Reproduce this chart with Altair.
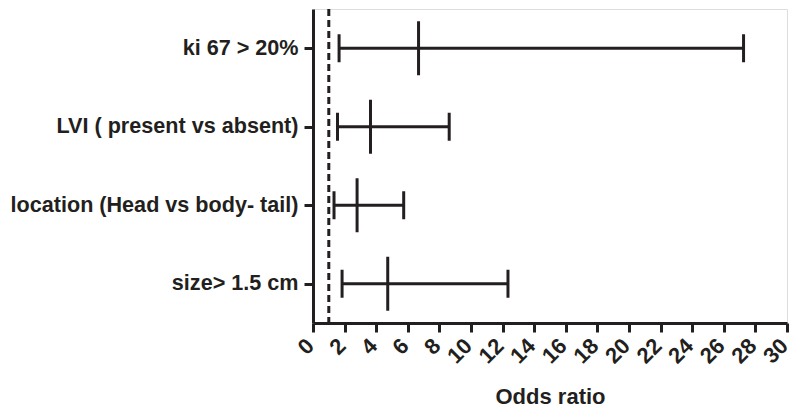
import altair as alt
import pandas as pd

labels = ["ki 67 > 20%", "LVI ( present vs absent)", "location (Head vs body- tail)", "size> 1.5 cm"]
odds = [6.68, 3.64, 2.79, 4.73]
lower = [1.65, 1.55, 1.33, 1.84]
upper = [27.25, 8.62, 5.74, 12.34]
x_ticks = list(range(0, 31, 2))
ref_value = 1

df = pd.DataFrame({"label": labels, "odds": odds, "lower": lower, "upper": upper})
INK = "#231f20"
FONT = "Liberation Sans"

y_axis = alt.Axis(title=None, labelFont=FONT, labelFontSize=21.6, labelFontWeight="bold",
                  labelColor=INK, domainColor=INK, domainWidth=3, tickColor=INK,
                  tickWidth=3, tickSize=9, labelPadding=6, labelLimit=0)
y_enc = alt.Y("label:N", sort=labels, scale=alt.Scale(type="point", padding=0.5), axis=y_axis)
x_scale = alt.Scale(domain=[0, 30], nice=False)
x_axis = alt.Axis(title="Odds ratio", values=x_ticks, labelAngle=-45, labelFont=FONT,
                  labelFontSize=22, labelFontWeight="bold", labelColor=INK, domainColor=INK,
                  domainWidth=3, tickColor=INK, tickWidth=3, tickSize=9, grid=False,
                  labelOverlap=False, labelFlush=False, labelAlign="right", labelBaseline="middle",
                  labelOffset=-3,
                  titleFont=FONT, titleFontSize=22, titleFontWeight="bold", titleColor=INK,
                  titlePadding=19, labelPadding=10)


def xq(field):
    return alt.X(field, scale=x_scale, axis=x_axis)


base = alt.Chart(df)
ci = base.mark_rule(color=INK, strokeWidth=3).encode(
    x=xq("lower:Q"), x2="upper:Q", y=y_enc)
cap_lo = base.mark_tick(color=INK, thickness=3, size=28, orient="vertical", opacity=1).encode(
    x=xq("lower:Q"), y=y_enc)
cap_hi = base.mark_tick(color=INK, thickness=3, size=28, orient="vertical", opacity=1).encode(
    x=xq("upper:Q"), y=y_enc)
mid = base.mark_tick(color=INK, thickness=3, size=54, orient="vertical", opacity=1).encode(
    x=xq("odds:Q"), y=y_enc)
ref = alt.Chart(pd.DataFrame({"v": [ref_value]})).mark_rule(
    color=INK, strokeWidth=3, strokeDash=[7, 4]).encode(x=xq("v:Q"))

chart = alt.layer(ci, cap_lo, cap_hi, mid, ref).properties(
    width=474, height=314,
    autosize=alt.AutoSizeParams(type="none"),
    padding={"left": 305, "top": 1, "right": 5, "bottom": 87},
).configure_view(stroke=None).configure(background="white")

chart.save("out.html", embed_options={"renderer": "svg", "actions": False})
